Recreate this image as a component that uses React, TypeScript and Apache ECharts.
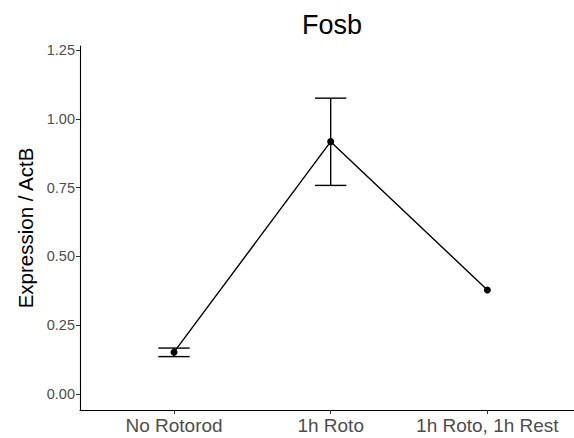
import React, { useEffect, useRef } from "react";
import * as echarts from "echarts";

const categories = ["No Rotorod", "1h Roto", "1h Roto, 1h Rest"];
const means = [0.152, 0.917, 0.378];
const lowers: (number | null)[] = [0.136, 0.758, null];
const uppers: (number | null)[] = [0.167, 1.075, null];
const yTicks = [0, 0.25, 0.5, 0.75, 1.0, 1.25];
const title = "Fosb";
const yName = "Expression / ActB";

const FONT = "'Liberation Sans', Arial, Helvetica, sans-serif";

export default function App() {
  const ref = useRef<HTMLDivElement>(null);
  useEffect(() => {
    if (!ref.current) return;
    const chart = echarts.init(ref.current, undefined, { renderer: "svg" });
    const idx = categories.map((_, i) => i);
    const lineData = means.map((v, i) => [i, v]);
    const errData = idx
      .filter((i) => lowers[i] != null && uppers[i] != null)
      .map((i) => [i, lowers[i], uppers[i]]);
    chart.setOption({
      animation: false,
      backgroundColor: "#ffffff",
      textStyle: { fontFamily: FONT },
      title: {
        text: title,
        left: 327,
        top: 6,
        textAlign: "center",
        textStyle: { fontFamily: FONT, fontSize: 27, fontWeight: "normal", color: "#000000" },
      },
      grid: { left: 80, right: 0, top: 46, bottom: 28, containLabel: false },
      xAxis: {
        type: "value",
        min: -0.6,
        max: 2.553,
        splitLine: { show: false },
        axisLine: { show: true, onZero: false, lineStyle: { color: "#000000", width: 1.1 } },
        axisTick: {
          show: true,
          length: 4,
          lineStyle: { color: "#333333", width: 1 },
          customValues: idx,
        },
        axisLabel: {
          customValues: idx,
          formatter: (v: number) => categories[Math.round(v)] ?? "",
          color: "#4d4d4d",
          fontSize: 19,
          fontFamily: FONT,
          margin: 6,
        },
      },
      yAxis: {
        type: "value",
        min: -0.058,
        max: 1.2645,
        name: yName,
        nameLocation: "middle",
        nameRotate: 90,
        nameGap: 39,
        nameTextStyle: { fontFamily: FONT, fontSize: 20.5, color: "#000000" },
        splitLine: { show: false },
        axisLine: { show: true, onZero: false, lineStyle: { color: "#000000", width: 1.1 } },
        axisTick: {
          show: true,
          length: 4,
          lineStyle: { color: "#333333", width: 1 },
          customValues: yTicks,
        },
        axisLabel: {
          customValues: yTicks,
          formatter: (v: number) => v.toFixed(2),
          color: "#4d4d4d",
          fontSize: 14.5,
          fontFamily: FONT,
          margin: 5,
        },
      },
      series: [
        {
          type: "custom",
          data: errData,
          z: 2,
          renderItem: (params: any, api: any) => {
            const x = api.value(0);
            const lo = api.coord([x, api.value(1)]);
            const hi = api.coord([x, api.value(2)]);
            const half = api.size([0.2, 0])[0] / 2;
            const style = { stroke: "#000000", lineWidth: 1.4 };
            return {
              type: "group",
              children: [
                { type: "line", shape: { x1: lo[0], y1: lo[1], x2: hi[0], y2: hi[1] }, style },
                { type: "line", shape: { x1: hi[0] - half, y1: hi[1], x2: hi[0] + half, y2: hi[1] }, style },
                { type: "line", shape: { x1: lo[0] - half, y1: lo[1], x2: lo[0] + half, y2: lo[1] }, style },
              ],
            };
          },
        },
        {
          type: "line",
          data: lineData,
          z: 3,
          symbol: "circle",
          symbolSize: 7,
          lineStyle: { color: "#000000", width: 1.4 },
          itemStyle: { color: "#000000", borderWidth: 0 },
        },
      ],
    });
    return () => chart.dispose();
  }, []);
  return (
    <div
      ref={ref}
      style={{ position: "fixed", left: 0, top: 0, width: 574, height: 438 }}
    />
  );
}
